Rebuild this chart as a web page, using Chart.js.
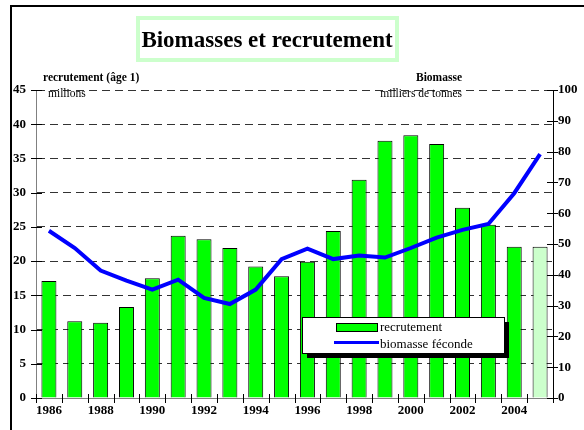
<!DOCTYPE html>
<html lang="fr">
<head>
<meta charset="UTF-8">
<title>Biomasses et recrutement</title>
<script src="https://cdn.jsdelivr.net/npm/chart.js"></script>
<style>
  html, body { margin: 0; padding: 0; background: #fff; }
  #wrap { width: 584px; height: 430px; }
</style>
</head>
<body>
<div id="wrap"><canvas id="chart" width="584" height="430"></canvas></div>
<script>
// data
const years = ['1986', '1987', '1988', '1989', '1990', '1991', '1992', '1993', '1994', '1995',
               '1996', '1997', '1998', '1999', '2000', '2001', '2002', '2003', '2004', '2005'];
const recrutement = [17.1, 11.2, 11.0, 13.3, 17.5, 23.7, 23.2, 21.9, 19.2, 17.8,
                     19.9, 24.4, 31.9, 37.6, 38.4, 37.1, 27.8, 25.3, 22.1, 22.1];
const biomasse = [54.3, 48.7, 41.4, 38.1, 35.2, 38.4, 32.5, 30.5, 35.2, 45.1,
                  48.5, 45.1, 46.3, 45.6, 48.7, 52.1, 54.6, 56.5, 66.5, 79.2];
const leftTicks = [0, 45, 5];    // min, max, step (millions)
const rightTicks = [0, 100, 10]; // min, max, step (milliers de tonnes)

const SERIF = '"Liberation Serif", "Times New Roman", serif';
const barColors = years.map(y => y === '2005' ? '#ccffcc' : '#00ff00');

const decor = {
    id: 'decor',
    beforeDraw(chart) {
        const ctx = chart.ctx;
        ctx.save();
        ctx.fillStyle = '#fff';
        ctx.fillRect(0, 0, chart.width, chart.height);
        // outer frame
        ctx.strokeStyle = '#000';
        ctx.lineWidth = 2;
        ctx.strokeRect(11, 6, 700, 600);
        // title box
        ctx.fillStyle = '#ccffcc';
        ctx.fillRect(136, 16, 263, 46);
        ctx.fillStyle = '#fff';
        ctx.fillRect(140, 20, 255, 38);
        ctx.fillStyle = '#000';
        ctx.font = 'bold 23px ' + SERIF;
        ctx.textAlign = 'center';
        ctx.textBaseline = 'alphabetic';
        ctx.fillText('Biomasses et recrutement', 267, 47);
        ctx.restore();
    },
    afterDraw(chart) {
        const ctx = chart.ctx;
        const area = chart.chartArea;
        const {x, y, y1} = chart.scales;
        ctx.save();
        ctx.strokeStyle = '#000';
        ctx.lineWidth = 1;
        ctx.beginPath();
        y.ticks.forEach(t => {
            const py = Math.round(y.getPixelForValue(t.value)) + 0.5;
            ctx.moveTo(area.left - 5, py);
            ctx.lineTo(area.left + 6, py);
        });
        y1.ticks.forEach(t => {
            const py = Math.round(y1.getPixelForValue(t.value)) + 0.5;
            ctx.moveTo(area.right - 6, py);
            ctx.lineTo(area.right + 5, py);
        });
        for (let i = 0; i <= years.length; i++) {
            const px = Math.round(x.getPixelForValue(i - 0.5)) + 0.5;
            ctx.moveTo(px, area.bottom - 4);
            ctx.lineTo(px, area.bottom + 5);
        }
        ctx.stroke();

        // axis titles
        ctx.fillStyle = '#000';
        ctx.textBaseline = 'alphabetic';
        ctx.textAlign = 'left';
        ctx.font = 'bold 11.5px ' + SERIF;
        ctx.fillText('recrutement (âge 1)', 43, 81);
        ctx.font = '11.5px ' + SERIF;
        ctx.fillText('millions', 48, 97);
        ctx.textAlign = 'right';
        ctx.font = 'bold 11.5px ' + SERIF;
        ctx.fillText('Biomasse', 462, 81);
        ctx.font = '11.5px ' + SERIF;
        ctx.fillText('milliers de tonnes', 462, 97);

        // legend with drop shadow
        const lx = 302, ly = 317, lw = 202, lh = 36;
        ctx.fillStyle = '#000';
        ctx.fillRect(lx + 5, ly + 5, lw, lh);
        ctx.fillStyle = '#fff';
        ctx.fillRect(lx, ly, lw, lh);
        ctx.strokeStyle = '#000';
        ctx.strokeRect(lx + 0.5, ly + 0.5, lw, lh);
        const barSet = chart.data.datasets.find(d => d.type === 'bar');
        const lineSet = chart.data.datasets.find(d => d.type === 'line');
        ctx.fillStyle = '#00ff00';
        ctx.fillRect(336, 323, 41, 8);
        ctx.strokeRect(336.5, 323.5, 41, 8);
        ctx.strokeStyle = lineSet.borderColor;
        ctx.lineWidth = 3;
        ctx.beginPath();
        ctx.moveTo(334, 342.5);
        ctx.lineTo(379, 342.5);
        ctx.stroke();
        ctx.fillStyle = '#000';
        ctx.textAlign = 'left';
        ctx.font = '13px ' + SERIF;
        ctx.fillText(barSet.label, 380, 331);
        ctx.fillText(lineSet.label, 380, 348);
        ctx.restore();
    }
};

new Chart(document.getElementById('chart'), {
    data: {
        labels: years,
        datasets: [
            {
                type: 'line',
                label: 'biomasse féconde',
                data: biomasse,
                yAxisID: 'y1',
                borderColor: '#0000ff',
                borderWidth: 4,
                pointRadius: 0,
                tension: 0,
                order: 0
            },
            {
                type: 'bar',
                label: 'recrutement',
                data: recrutement,
                yAxisID: 'y',
                backgroundColor: barColors,
                borderColor: '#000',
                borderWidth: 1,
                barPercentage: 0.58,
                categoryPercentage: 1,
                order: 1
            }
        ]
    },
    options: {
        responsive: false,
        animation: false,
        devicePixelRatio: 1,
        layout: { padding: { top: 90, left: 0, right: 0, bottom: 0 } },
        plugins: { legend: { display: false }, title: { display: false }, tooltip: { enabled: false } },
        scales: {
            x: {
                offset: true,
                grid: { display: false, drawTicks: false },
                border: { display: true, color: '#808080', width: 1 },
                ticks: {
                    autoSkip: false,
                    maxRotation: 0,
                    padding: 5,
                    color: '#000',
                    font: { family: SERIF, size: 13, weight: 'bold' },
                    callback: (v, i) => i % 2 === 0 ? years[i] : ''
                },
                afterFit: s => { s.height = 32; }
            },
            y: {
                position: 'left',
                min: leftTicks[0],
                max: leftTicks[1],
                ticks: {
                    stepSize: leftTicks[2],
                    padding: 10,
                    color: '#000',
                    font: { family: SERIF, size: 13, weight: 'bold' }
                },
                grid: {
                    drawTicks: false,
                    color: ctx => ctx.tick && ctx.tick.value === 0 ? 'rgba(0,0,0,0)' : '#333',
                    lineWidth: 1
                },
                border: { display: true, color: '#808080', width: 1, dash: [8, 5] },
                afterFit: s => { s.width = 36; }
            },
            y1: {
                position: 'right',
                min: rightTicks[0],
                max: rightTicks[1],
                ticks: {
                    stepSize: rightTicks[2],
                    padding: 5,
                    color: '#000',
                    font: { family: SERIF, size: 13, weight: 'bold' }
                },
                grid: { drawOnChartArea: false, drawTicks: false },
                border: { display: true, color: '#000', width: 1 },
                afterFit: s => { s.width = 31; }
            }
        }
    },
    plugins: [decor]
});
</script>
</body>
</html>
